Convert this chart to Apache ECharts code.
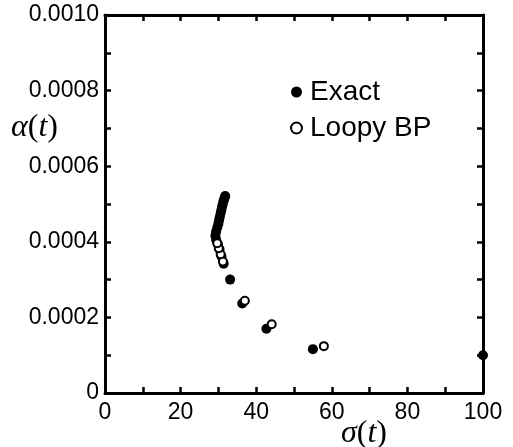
<!DOCTYPE html>
<html><head><meta charset="utf-8">
<script src="https://cdn.jsdelivr.net/npm/echarts@6/dist/echarts.min.js"></script>
<style>html,body{margin:0;padding:0;background:#fff}#c{width:513px;height:447px}</style>
</head><body><div id="c"></div>
<script>
const seriesNames = ['Exact', 'Loopy BP'];
const exactSigma = [100, 55.0, 42.7, 36.3, 33.1, 31.4, 30.8, 30.3, 29.9, 29.4, 29.2, 29.4, 29.7, 30.0, 30.2, 30.4, 30.6, 30.8, 31.0, 31.2, 31.4, 31.6, 31.8];
const exactAlpha = [0.000100, 0.000116, 0.000170, 0.000237, 0.000300, 0.000342, 0.000362, 0.000380, 0.000393, 0.000405, 0.000416, 0.000427, 0.000438, 0.000448, 0.000458, 0.000467, 0.000476, 0.000485, 0.000494, 0.000502, 0.000509, 0.000515, 0.000521];
const loopySigma = [57.9, 44.1, 37.0, 31.2, 30.6, 30.1, 29.7];
const loopyAlpha = [0.000124, 0.000182, 0.000244, 0.000348, 0.000367, 0.000383, 0.000396];
const xTicks = [0, 20, 40, 60, 80, 100];
const yTicks = ['0', '0.0002', '0.0004', '0.0006', '0.0008', '0.0010'];

const chart = echarts.init(document.getElementById('c'));
const toPairs = (xs, ys) => xs.map((x, i) => [x, ys[i]]);
const axisLine = {show: true, onZero: false, lineStyle: {color: '#000', width: 3}};
const axisTick = {show: true, inside: true, length: 6, lineStyle: {color: '#000', width: 2.5}};
const lblFont = {fontFamily: 'Liberation Sans', fontSize: 23, color: '#000'};
const grid = {left: 105, right: 30, top: 15, bottom: 54};
const mathRich = {
  i: {fontFamily: 'Liberation Serif', fontStyle: 'italic', fontSize: 32, fill: '#000'},
  n: {fontFamily: 'Liberation Serif', fontSize: 32, fill: '#000'}
};

chart.setOption({
  animation: false,
  backgroundColor: '#fff',
  grid: grid,
  legend: {
    data: seriesNames,
    orient: 'vertical',
    left: 290, top: 77, padding: 0,
    itemWidth: 11, itemHeight: 11, itemGap: 6,
    textStyle: {fontFamily: 'Liberation Sans', fontSize: 28, color: '#000', padding: [0, 0, 0, 3], lineHeight: 30}
  },
  xAxis: [{
    type: 'value', min: 0, max: 100, interval: 10, position: 'bottom',
    axisLine: axisLine, axisTick: axisTick, splitLine: {show: false},
    axisLabel: Object.assign({margin: 8, formatter: v => xTicks.indexOf(v) >= 0 ? String(v) : ''}, lblFont)
  }, {
    type: 'value', min: 0, max: 100, interval: 10, position: 'top',
    axisLine: axisLine, axisTick: axisTick, splitLine: {show: false}, axisLabel: {show: false}
  }],
  yAxis: [{
    type: 'value', min: 0, max: 0.001, interval: 0.0001, position: 'left',
    axisLine: axisLine, axisTick: axisTick, splitLine: {show: false},
    axisLabel: Object.assign({margin: 6, formatter: v => {
      const s = Math.round(v * 10000) === 0 ? '0' : (Math.round(v * 10000) / 10000).toFixed(4);
      return yTicks.indexOf(s) >= 0 ? s : '';
    }}, lblFont)
  }, {
    type: 'value', min: 0, max: 0.001, interval: 0.0001, position: 'right',
    axisLine: axisLine, axisTick: axisTick, splitLine: {show: false}, axisLabel: {show: false}
  }],
  series: [{
    name: seriesNames[0], type: 'scatter', symbol: 'circle', symbolSize: 10,
    itemStyle: {color: '#000', opacity: 1},
    data: toPairs(exactSigma, exactAlpha), z: 3, clip: false
  }, {
    name: seriesNames[1], type: 'scatter', symbol: 'circle', symbolSize: 8,
    itemStyle: {color: '#fff', borderColor: '#000', borderWidth: 2, opacity: 1},
    data: toPairs(loopySigma, loopyAlpha), z: 4
  }],
  graphic: [{
    type: 'text', left: 11, top: 112,
    style: {text: '{i|α}{n|(}{i|t}{n|)}', rich: mathRich}
  }, {
    type: 'text', left: 341, top: 418,
    style: {text: '{i|σ}{n|(}{i|t}{n|)}', rich: mathRich}
  }]
});
</script></body></html>
